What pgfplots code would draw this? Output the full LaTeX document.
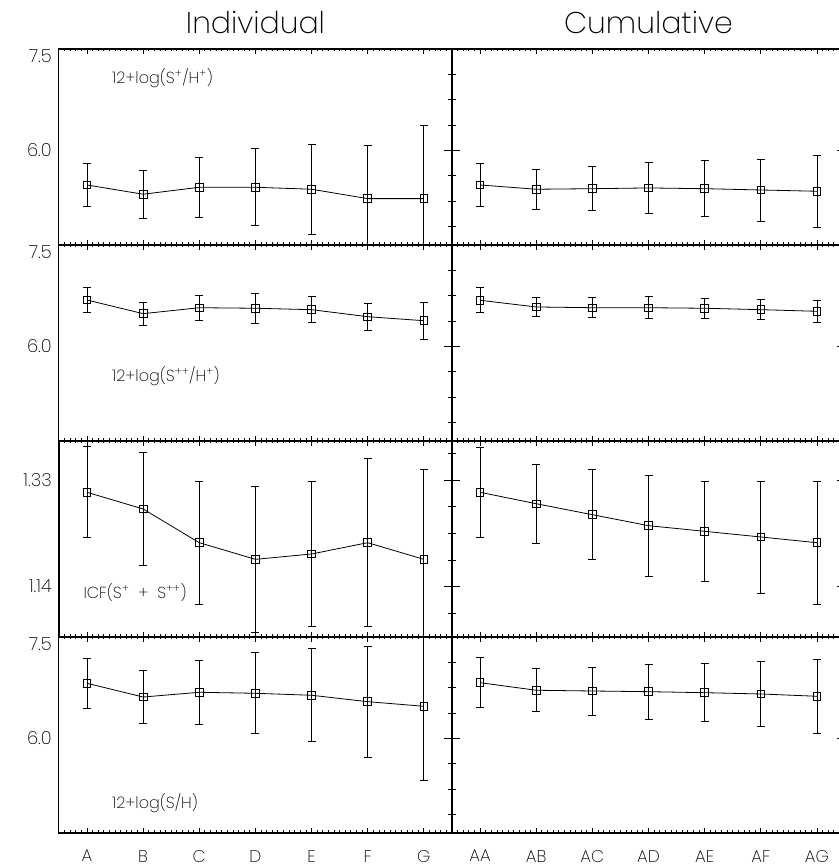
\documentclass[border=0pt]{standalone}
\usepackage{pgfplots}
\pgfplotsset{compat=1.18}
\usepackage{fontspec}
\setmainfont{Poppins ExtraLight}
\begin{document}
\begin{tikzpicture}
\pgfplotsset{
  panel/.style={
    scale only axis, width=393bp, height=196bp, anchor=south west,
    xmin=-0.5, xmax=6.5, xtick={0,...,6},
    minor xtick={-0.4,-0.3,...,6.45},
    axis line style={line width=1.2bp, black},
    tick style={black, line width=0.8bp},
    xtick style={/pgfplots/major tick length=5bp, /pgfplots/minor tick length=2.5bp},
    ytick style={/pgfplots/major tick length=8bp, /pgfplots/minor tick length=4bp},
    tick align=inside,
    xticklabels={},
    /pgf/number format/assume math mode=true,
    tick label style={font=\fontsize{18bp}{21bp}\selectfont},
    yticklabel style={anchor=east, inner sep=0pt, xshift=-7bp},
    xticklabel style={anchor=north, inner sep=0pt, yshift=-17bp, font=\fontsize{17bp}{19bp}\selectfont},
    clip=true,
  },
  leftcol/.style={ytick pos=right, yticklabel pos=left},
  rightcol/.style={ytick pos=both, yticklabels={}, extra y tick labels={}},
  rowS/.style={ymin=4.6, ymax=7.5, ytick={6}, yticklabels={6.0},
    minor ytick={4.875,5.25,5.625,6.375,6.75,7.125},
    extra y ticks={7.39}, extra y tick labels={7.5},
    extra y tick style={major tick length=0pt, tick style={draw=none}}},
  rowI/.style={ymin=1.05, ymax=1.40, ytick={1.14,1.33}, yticklabels={1.14,1.33},
    minor ytick={1.0925,1.1875,1.235,1.2825,1.3775}},
  ser/.style={black, line width=0.8bp, mark=square, mark size=3.8bp,
    mark options={solid, line width=0.8bp, fill=none},
    error bars/.cd, y dir=both, y explicit,
    error bar style={line width=0.8bp, black},
    error mark options={rotate=90, mark size=4bp, line width=0.8bp, black}},
}
% ---------- Row 1 : 12+log(S+/H+)
\begin{axis}[panel, leftcol, rowS, at={(58.9bp,623bp)}]
\addplot+[ser] table[x=x, y=y, y error=e] {
x y e
0 5.488 0.321
1 5.351 0.355
2 5.454 0.448
3 5.454 0.571
4 5.425 0.666
5 5.286 0.794
6 5.286 1.080
};
\end{axis}
\begin{axis}[panel, rowS, rightcol, at={(452bp,623bp)}]
\addplot+[ser] table[x=x, y=y, y error=e] {
x y e
0 5.488 0.321
1 5.425 0.296
2 5.433 0.325
3 5.444 0.374
4 5.433 0.414
5 5.414 0.459
6 5.395 0.533
};
\end{axis}
% ---------- Row 2 : 12+log(S++/H+)
\begin{axis}[panel, leftcol, rowS, at={(58.9bp,427bp)}]
\addplot+[ser] table[x=x, y=y, y error=e] {
x y e
0 6.686 0.182
1 6.484 0.173
2 6.572 0.183
3 6.564 0.226
4 6.543 0.192
5 6.439 0.198
6 6.380 0.272
};
\end{axis}
\begin{axis}[panel, rowS, rightcol, at={(452bp,427bp)}]
\addplot+[ser] table[x=x, y=y, y error=e] {
x y e
0 6.682 0.186
1 6.583 0.138
2 6.572 0.148
3 6.572 0.163
4 6.564 0.152
5 6.543 0.148
6 6.519 0.157
};
\end{axis}
% ---------- Row 3 : ICF
\begin{axis}[panel, leftcol, rowI, at={(58.9bp,231bp)}]
\addplot+[ser] table[x=x, y=y, y error=e] {
x y e
0 1.3084 0.0814
1 1.2786 0.1005
2 1.2184 0.1100
3 1.1887 0.1296
4 1.1982 0.1300
5 1.2184 0.1500
6 1.1887 0.1610
};
\end{axis}
\begin{axis}[panel, rowI, rightcol, at={(452bp,231bp)}]
\addplot+[ser] table[x=x, y=y, y error=e] {
x y e
0 1.3084 0.0804
1 1.2880 0.0709
2 1.2684 0.0804
3 1.2488 0.0905
4 1.2387 0.0899
5 1.2286 0.1000
6 1.2184 0.1100
};
\end{axis}
% ---------- Row 4 : 12+log(S/H)
\begin{axis}[panel, leftcol, rowS, at={(58.9bp,35bp)},
  xticklabels={A,B,C,D,E,F,G}]
\addplot+[ser] table[x=x, y=y, y error=e] {
x y e
0 6.815 0.370
1 6.612 0.395
2 6.682 0.473
3 6.667 0.600
4 6.638 0.689
5 6.543 0.824
6 6.475 1.100
};
\end{axis}
\begin{axis}[panel, rowS, rightcol, at={(452bp,35bp)},
  xticklabels={AA,AB,AC,AD,AE,AF,AG}]
\addplot+[ser] table[x=x, y=y, y error=e] {
x y e
0 6.824 0.370
1 6.712 0.320
2 6.701 0.355
3 6.691 0.405
4 6.676 0.429
5 6.657 0.478
6 6.623 0.552
};
\end{axis}
% ---------- titles and panel labels
\node[anchor=base, inner sep=0pt, font=\fontsize{30bp}{36bp}\selectfont] at (255.5bp,834.7bp) {Individual};
\node[anchor=base, inner sep=0pt, font=\fontsize{30bp}{36bp}\selectfont] at (648.5bp,834.7bp) {Cumulative};
\begin{scope}[every node/.style={anchor=base west, inner sep=0pt, font=\fontsize{16bp}{19bp}\selectfont}]
\node at (112bp,784.7bp) {12+log(S\textsuperscript{+}/H\textsuperscript{+})};
\node at (112bp,486.3bp) {12+log(S\textsuperscript{++}/H\textsuperscript{+})};
\node at (83.3bp,269.7bp) {ICF(S\textsuperscript{+}\ \ + \ S\textsuperscript{++})};
\node at (112bp,59bp) {12+log(S/H)};
\end{scope}
\pgfresetboundingbox
\path[use as bounding box] (0,0) rectangle (839bp,868bp);
\end{tikzpicture}
\end{document}
